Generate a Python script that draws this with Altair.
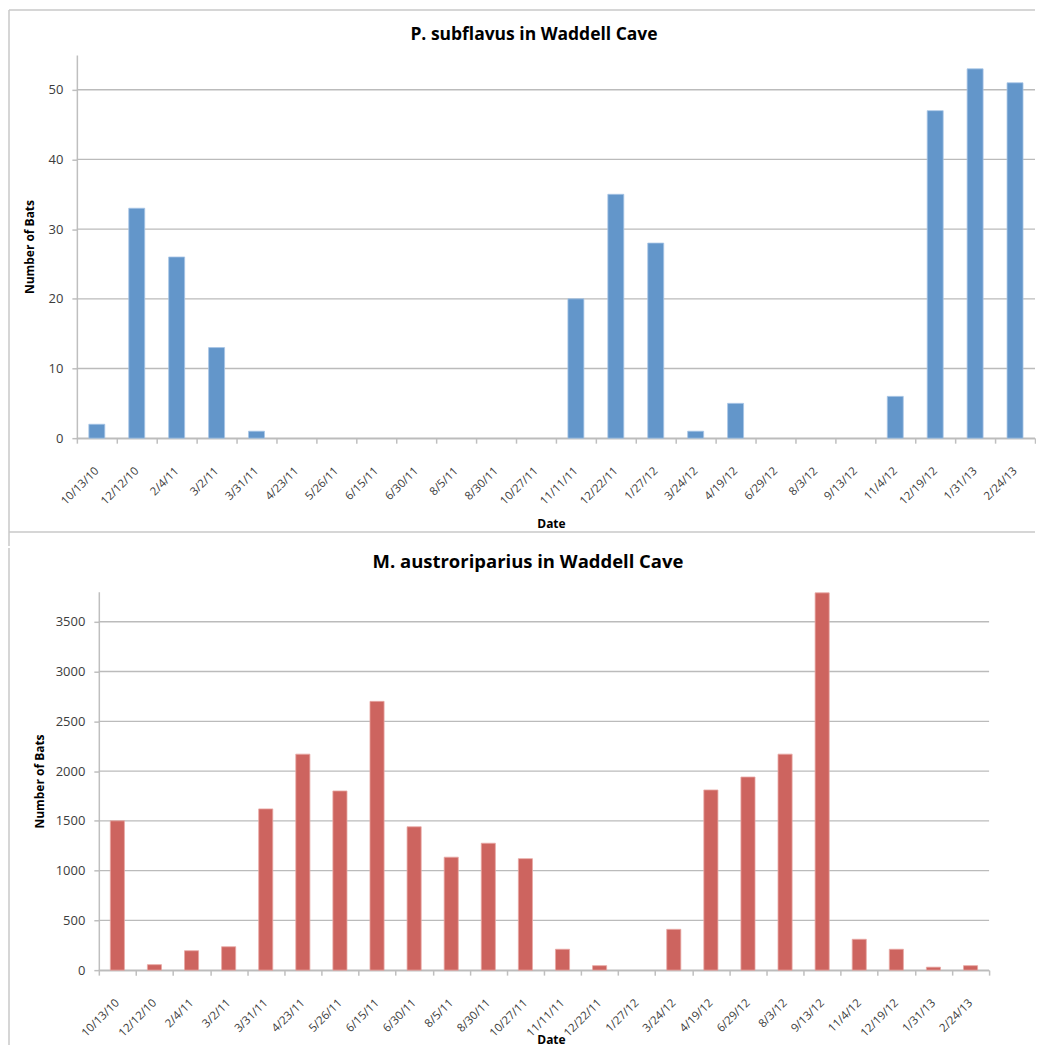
import altair as alt
import pandas as pd

dates = ["10/13/10", "12/12/10", "2/4/11", "3/2/11", "3/31/11", "4/23/11",
         "5/26/11", "6/15/11", "6/30/11", "8/5/11", "8/30/11", "10/27/11",
         "11/11/11", "12/22/11", "1/27/12", "3/24/12", "4/19/12", "6/29/12",
         "8/3/12", "9/13/12", "11/4/12", "12/19/12", "1/31/13", "2/24/13"]

subflavus = [2, 33, 26, 13, 1, 0, 0, 0, 0, 0, 0, 0,
             20, 35, 28, 1, 5, 0, 0, 0, 6, 47, 53, 51]

austroriparius = [1500, 55, 195, 235, 1620, 2170, 1800, 2700, 1440, 1135, 1275, 1120,
                  210, 45, 0, 410, 1810, 1940, 2170, 3790, 310, 210, 30, 45]

top_ticks = [0, 10, 20, 30, 40, 50]
bottom_ticks = [0, 500, 1000, 1500, 2000, 2500, 3000, 3500]

FONT = "Open Sans"
FRAME = "#C9C9C9"
GRID = "#BBBBBB"


def panel(values, color, edge, title, tsize, ymax, yticks, W, H, x0, band,
          fl, ft, fb, fr, left_end, draw_top, draw_bottom, tx, ty, ytx, xtx, xty):
    df = pd.DataFrame({"Date": dates, "Bats": values})
    grid_df = pd.DataFrame({"Bats": yticks})
    one = pd.DataFrame({"k": [0]})
    x = alt.X("Date:N", sort=dates,
              scale=alt.Scale(paddingInner=0, paddingOuter=0, range=[x0, W]),
              axis=alt.Axis(title="Date", tickBand="extent", labelAngle=315,
                            labelAlign="right", labelBaseline="middle",
                            labelPadding=26, tickSize=5, grid=False,
                            labelFontSize=11.5, titleX=xtx, titleY=xty,
                            titleAlign="center", titleBaseline="middle"))
    y = alt.Y("Bats:Q",
              scale=alt.Scale(domain=[0, ymax], nice=False, zero=True),
              axis=alt.Axis(values=yticks, title="Number of Bats", tickSize=5,
                            labelPadding=9, labelFontSize=13, grid=False,
                            format="d", offset=-x0,
                            titleX=ytx, titleAngle=270, titleAlign="center",
                            titleBaseline="middle"))
    grid = alt.Chart(grid_df).mark_rule(color=GRID, strokeWidth=1.3).encode(
        y=y, x=alt.value(x0), x2=alt.value(W))
    bars = alt.Chart(df).mark_bar(
        color=color, stroke=edge, strokeWidth=0.8,
        width=alt.RelativeBandSize(band)).encode(
        x=x, y=y,
        strokeOpacity=alt.condition("datum.Bats > 0", alt.value(1), alt.value(0)))
    layers = [grid, bars]
    if draw_top:
        layers.append(alt.Chart(one).mark_rule(color=FRAME, strokeWidth=1.5).encode(
            x=alt.value(fl), x2=alt.value(fr), y=alt.value(ft)))
    layers.append(alt.Chart(one).mark_rule(color=FRAME, strokeWidth=1.5).encode(
        x=alt.value(fl), y=alt.value(ft), y2=alt.value(left_end)))
    if draw_bottom:
        layers.append(alt.Chart(one).mark_rule(color=FRAME, strokeWidth=1.5).encode(
            x=alt.value(fl), x2=alt.value(fr), y=alt.value(fb)))
    layers.append(alt.Chart(one).mark_text(
        font=FONT, fontSize=tsize, fontWeight="bold", color="#000000",
        align="center", baseline="alphabetic").encode(
        x=alt.value(tx), y=alt.value(ty), text=alt.value(title)))
    return alt.layer(*layers).properties(width=W, height=H)


top = panel(subflavus, "#6396CA", "#A8C5E6", "P. subflavus in Waddell Cave", 17.5,
            55, top_ticks, 960, 384, 0, 0.4,
            -68, -45, 478, 960, 492, True, True, 458, -15, -47, 475, 85)

bottom = panel(austroriparius, "#CD645F", "#E9A8A4", "M. austroriparius in Waddell Cave", 18.5,
               3800, bottom_ticks, 914, 379, 22, 0.38,
               -68, -44, 454, 914, 454, False, False, 452, -24, -59, 475, 70)

chart = alt.concat(top, bottom, columns=1, spacing=0).properties(
    padding=0
).configure_view(stroke=None).configure_axis(
    domainColor="#BFBFBF", domainWidth=1.5,
    tickColor="#BFBFBF", tickWidth=1.5,
    labelColor="#3C3C3C", labelFont=FONT,
    titleFont=FONT, titleFontSize=12, titleFontWeight="bold", titleColor="#000000"
)

chart.save("out.html", embed_options={"renderer": "svg", "actions": False})
